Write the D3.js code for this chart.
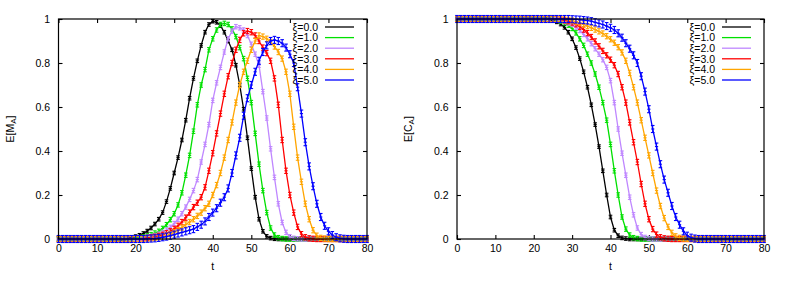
<!DOCTYPE html>
<html><head><meta charset="utf-8">
<script src="https://cdn.jsdelivr.net/npm/d3@7"></script>
<style>body{margin:0;background:#fff}svg{display:block;font-family:"Liberation Sans",Arial,sans-serif}</style>
</head><body><svg id="c" width="789" height="285"></svg>
<script>
const t = [0,1,2,3,4,5,6,7,8,9,10,11,12,13,14,15,16,17,18,19,20,21,22,23,24,25,26,27,28,29,30,31,32,33,34,35,36,37,38,39,40,41,42,43,44,45,46,47,48,49,50,51,52,53,54,55,56,57,58,59,60,61,62,63,64,65,66,67,68,69,70,71,72,73,74,75,76,77,78,79,80];
const legendLabels = ["ξ=0.0","ξ=1.0","ξ=2.0","ξ=3.0","ξ=4.0","ξ=5.0"];
const colors = ["#000000","#00e000","#bf87ff","#ff0000","#ffa500","#0000ff"];
const xTicks = [0,10,20,30,40,50,60,70,80];
const yTicks = [0,0.2,0.4,0.6,0.8,1];
const yTickLabels = ["0","0.2","0.4","0.6","0.8","1"];

// E[M_A]
const M0 = [0,0,0,0,0,0,0,0,0,0, 0,0,0,0,0,0,0.001,0.002,0.004,0.007,
 0.011,0.017,0.025,0.036,0.05,0.068,0.09,0.12,0.17,0.23,
 0.30,0.37,0.45,0.54,0.64,0.73,0.81,0.88,0.94,0.975,
 0.99,0.985,0.97,0.94,0.90,0.86,0.79,0.70,0.59,0.46,
 0.32,0.19,0.09,0.035,0.012,0.004,0.001,0,0,0,
 0,0,0,0,0,0,0,0,0,0, 0,0,0,0,0,0,0,0,0,0, 0];
const M1 = [0,0,0,0,0,0,0,0,0,0, 0,0,0,0,0,0,0,0,0.001,0.002,
 0.004,0.006,0.009,0.014,0.02,0.027,0.035,0.048,0.065,0.088,
 0.115,0.155,0.21,0.29,0.38,0.49,0.61,0.70,0.77,0.86,
 0.91,0.95,0.975,0.98,0.975,0.955,0.92,0.87,0.82,0.73,
 0.62,0.48,0.34,0.22,0.12,0.05,0.018,0.006,0.002,0,
 0,0,0,0,0,0,0,0,0,0, 0,0,0,0,0,0,0,0,0,0, 0];
const M2 = [0,0,0,0,0,0,0,0,0,0, 0,0,0,0,0,0,0,0,0,0,
 0.002,0.003,0.005,0.008,0.011,0.016,0.022,0.03,0.04,0.053,
 0.07,0.09,0.115,0.145,0.18,0.22,0.27,0.35,0.43,0.52,
 0.63,0.71,0.78,0.85,0.91,0.945,0.965,0.96,0.95,0.925,
 0.885,0.84,0.79,0.67,0.55,0.41,0.28,0.16,0.075,0.03,
 0.01,0.003,0.001,0,0,0,0,0,0,0, 0,0,0,0,0,0,0,0,0,0, 0];
const M3 = [0,0,0,0,0,0,0,0,0,0, 0,0,0,0,0,0,0,0,0,0,
 0,0.002,0.003,0.005,0.007,0.01,0.014,0.019,0.026,0.035,
 0.046,0.06,0.077,0.097,0.12,0.145,0.165,0.19,0.235,0.31,
 0.39,0.48,0.57,0.66,0.74,0.80,0.86,0.905,0.935,0.945,
 0.94,0.925,0.90,0.87,0.845,0.81,0.73,0.61,0.45,0.31,
 0.2,0.12,0.055,0.022,0.008,0.003,0.001,0,0,0,
 0,0,0,0,0,0,0,0,0,0, 0];
const M4 = [0,0,0,0,0,0,0,0,0,0, 0,0,0,0,0,0,0,0,0,0,
 0,0,0.001,0.002,0.003,0.005,0.008,0.011,0.016,0.022,
 0.03,0.04,0.052,0.066,0.077,0.09,0.105,0.12,0.14,0.16,
 0.2,0.245,0.3,0.37,0.45,0.53,0.62,0.7,0.76,0.81,
 0.86,0.9,0.925,0.92,0.91,0.895,0.875,0.85,0.82,0.76,
 0.66,0.51,0.37,0.26,0.16,0.09,0.04,0.015,0.005,0.002,
 0,0,0,0,0,0,0,0,0,0, 0];
const M5 = [0,0,0,0,0,0,0,0,0,0, 0,0,0,0,0,0,0,0,0,0,
 0,0,0,0.001,0.002,0.003,0.005,0.008,0.011,0.015,
 0.02,0.025,0.03,0.035,0.04,0.045,0.055,0.065,0.08,0.1,
 0.12,0.14,0.165,0.19,0.23,0.3,0.38,0.46,0.56,0.64,
 0.7,0.76,0.81,0.85,0.88,0.9,0.905,0.9,0.89,0.87,
 0.84,0.8,0.69,0.57,0.44,0.33,0.24,0.16,0.1,0.06,
 0.035,0.018,0.008,0.003,0.001,0,0,0,0,0, 0];
const errM = [0.008,0.01,0.01,0.012,0.012,0.016];

// E[C_A]
const C0 = [1,1,1,1,1,1,1,1,1,1, 1,1,1,1,1,1,1,1,1,1,
 1,1,1,0.999,0.997,0.993,0.987,0.977,0.962,0.94,
 0.91,0.87,0.82,0.76,0.69,0.61,0.52,0.42,0.31,0.2,
 0.1,0.04,0.015,0.005,0.002,0,0,0,0,0,
 0,0,0,0,0,0,0,0,0,0, 0,0,0,0,0,0,0,0,0,0, 0,0,0,0,0,0,0,0,0,0, 0];
const C1 = [1,1,1,1,1,1,1,1,1,1, 1,1,1,1,1,1,1,1,1,1,
 1,1,1,1,0.999,0.998,0.995,0.99,0.983,0.972,
 0.957,0.937,0.91,0.88,0.84,0.8,0.75,0.69,0.62,0.54,
 0.43,0.31,0.2,0.1,0.045,0.018,0.006,0.002,0,0,
 0,0,0,0,0,0,0,0,0,0, 0,0,0,0,0,0,0,0,0,0, 0,0,0,0,0,0,0,0,0,0, 0];
const C2 = [1,1,1,1,1,1,1,1,1,1, 1,1,1,1,1,1,1,1,1,1,
 1,1,1,1,1,0.999,0.997,0.994,0.989,0.982,
 0.975,0.963,0.948,0.93,0.91,0.888,0.865,0.84,0.815,0.78,
 0.72,0.62,0.5,0.39,0.29,0.19,0.11,0.05,0.02,0.007,
 0.002,0,0,0,0,0,0,0,0,0, 0,0,0,0,0,0,0,0,0,0, 0,0,0,0,0,0,0,0,0,0, 0];
const C3 = [1,1,1,1,1,1,1,1,1,1, 1,1,1,1,1,1,1,1,1,1,
 1,1,1,1,1,1,0.999,0.997,0.994,0.99,
 0.984,0.976,0.965,0.952,0.936,0.918,0.898,0.876,0.855,0.835,
 0.815,0.79,0.75,0.69,0.62,0.53,0.44,0.35,0.25,0.16,
 0.09,0.045,0.02,0.008,0.003,0.001,0,0,0,0,
 0,0,0,0,0,0,0,0,0,0, 0,0,0,0,0,0,0,0,0,0, 0];
const C4 = [1,1,1,1,1,1,1,1,1,1, 1,1,1,1,1,1,1,1,1,1,
 1,1,1,1,1,1,1,0.999,0.998,0.996,
 0.993,0.988,0.982,0.975,0.968,0.96,0.952,0.944,0.934,0.922,
 0.908,0.892,0.872,0.848,0.81,0.755,0.69,0.62,0.54,0.46,
 0.38,0.3,0.22,0.15,0.095,0.055,0.028,0.012,0.005,0.002,
 0.001,0,0,0,0,0,0,0,0,0, 0,0,0,0,0,0,0,0,0,0, 0];
const C5 = [1,1,1,1,1,1,1,1,1,1, 1,1,1,1,1,1,1,1,1,1,
 1,1,1,1,1,1,1,1,1,1,
 0.999,0.998,0.997,0.995,0.993,0.99,0.985,0.98,0.975,0.968,
 0.96,0.95,0.935,0.915,0.89,0.865,0.835,0.8,0.74,0.67,
 0.59,0.5,0.42,0.34,0.27,0.21,0.15,0.1,0.065,0.035,
 0.015,0.006,0.002,0,0,0,0,0,0,0, 0,0,0,0,0,0,0,0,0,0, 0];
const errC = [0.008,0.01,0.01,0.012,0.012,0.016];

const panels = [
  {x0:58.5, x1:367, series:[M0,M1,M2,M3,M4,M5], err:errM, ylab:"M"},
  {x0:457, x1:764, series:[C0,C1,C2,C3,C4,C5], err:errC, ylab:"C"}
];
const yTop = 19, yBot = 239;
const svg = d3.select("#c");
svg.append("rect").attr("width",789).attr("height",285).attr("fill","#fff");

panels.forEach(p => {
  const x = d3.scaleLinear().domain([0,80]).range([p.x0,p.x1]);
  const y = d3.scaleLinear().domain([0,1]).range([yBot,yTop]);
  const g = svg.append("g");
  const fs = "10.5px";

  const ax = [
    {a:d3.axisBottom(x).tickValues(xTicks).tickFormat(d3.format("d")), tr:`translate(0,${yBot})`},
    {a:d3.axisTop(x).tickValues(xTicks).tickFormat(""), tr:`translate(0,${yTop})`},
    {a:d3.axisLeft(y).tickValues(yTicks).tickFormat((d,i)=>yTickLabels[i]), tr:`translate(${p.x0},0)`},
    {a:d3.axisRight(y).tickValues(yTicks).tickFormat(""), tr:`translate(${p.x1},0)`}
  ];
  ax.forEach((o,i) => {
    o.a.tickSizeInner(-4).tickSizeOuter(0).tickPadding(i===2?8.5:6);
    const ag = g.append("g").attr("transform",o.tr).call(o.a);
    ag.select(".domain").remove();
    ag.selectAll("line").attr("stroke","#000").attr("stroke-width",1.1);
    ag.selectAll("text").attr("fill","#000").style("font-size",fs).style("font-family","'Liberation Sans',Arial,sans-serif");
  });

  p.series.forEach((s,k) => {
    const col = colors[k], e = p.err[k];
    const line = d3.line().x((d,i)=>x(t[i])).y(d=>y(d));
    g.append("path").datum(s).attr("d",line).attr("fill","none").attr("stroke",col).attr("stroke-width",1.3);
    const pts = g.append("g").attr("stroke",col).attr("stroke-width",1.1);
    s.forEach((v,i) => {
      const cx = x(t[i]), ya = y(v+e), yb = y(v-e), cy = y(v);
      pts.append("line").attr("x1",cx).attr("x2",cx).attr("y1",ya).attr("y2",yb);
      pts.append("line").attr("x1",cx-1.8).attr("x2",cx+1.8).attr("y1",ya).attr("y2",ya);
      pts.append("line").attr("x1",cx-1.8).attr("x2",cx+1.8).attr("y1",yb).attr("y2",yb);
      pts.append("line").attr("x1",cx-1.6).attr("x2",cx+1.6).attr("y1",cy).attr("y2",cy);
    });
  });

  g.append("rect").attr("x",p.x0).attr("y",yTop).attr("width",p.x1-p.x0).attr("height",yBot-yTop)
    .attr("fill","none").attr("stroke","#000").attr("stroke-width",1.2);

  legendLabels.forEach((lab,k) => {
    const ly = 27 + k*10.6;
    g.append("text").attr("x",p.x1-49).attr("y",ly+3.7).attr("text-anchor","end")
      .style("font-size",fs).attr("fill","#000").text(lab);
    g.append("line").attr("x1",p.x1-42).attr("x2",p.x1-13).attr("y1",ly).attr("y2",ly)
      .attr("stroke",colors[k]).attr("stroke-width",1.3);
  });

  g.append("text").attr("x",(p.x0+p.x1)/2).attr("y",270).attr("text-anchor","middle")
    .style("font-size",fs).attr("fill","#000").text("t");
  const yt = g.append("text").attr("transform",`translate(${p.x0-45},${(yTop+yBot)/2}) rotate(-90)`)
    .attr("text-anchor","middle").style("font-size",fs).attr("fill","#000");
  yt.append("tspan").text("E[" + p.ylab);
  yt.append("tspan").attr("dy","2").style("font-size","8px").text("A");
  yt.append("tspan").attr("dy","-2").text("]");
});
</script></body></html>
